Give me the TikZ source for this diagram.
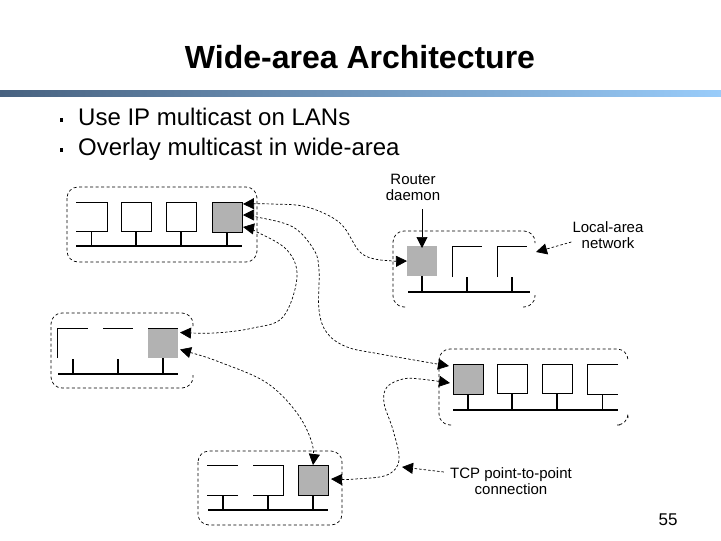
\documentclass[tikz,border=0pt]{standalone}
\usepackage{fontspec}
\setmainfont{Liberation Sans}
\usetikzlibrary{arrows.meta,calc}
\definecolor{routergray}{HTML}{B2B2B2}
\tikzset{
  x=1pt,y=-1pt,
  host/.style={draw=black,line width=0.8pt,fill=white,minimum width=30pt,minimum height=29.5pt,inner sep=0pt,outer sep=0pt,anchor=north west},
  router/.style={fill=routergray,minimum width=30pt,minimum height=30pt,inner sep=0pt,outer sep=0pt,anchor=north west},
  open/.style={draw=black,line width=0.8pt},
  bus/.style={draw=black,line width=1.5pt},
  stub/.style={draw=black,line width=1.5pt},
  thinstub/.style={draw=black,line width=0.8pt},
  lan/.style={draw=black,line width=0.7pt,dash pattern=on 3pt off 2.5pt,rounded corners=11pt},
  conn/.style={draw=black,line width=0.7pt,dash pattern=on 2.5pt off 2pt},
  tip/.style={-{Triangle[length=11pt,width=11pt]}},
  tips/.style={{Triangle[length=11pt,width=11pt]}-{Triangle[length=11pt,width=11pt]}},
  label/.style={font=\fontsize{15}{16.5}\selectfont,align=center,text=black,inner sep=0pt},
}
\begin{document}
\begin{tikzpicture}
\useasboundingbox (0,0) rectangle (721,541);
\fill[white] (0,0) rectangle (721,541);
% header
\node (title) at (360,57) {\fontsize{32}{36}\selectfont\bfseries Wide-area Architecture};
\shade[left color={rgb,255:red,72;green,98;blue,128},middle color={rgb,255:red,112;green,152;blue,194},right color={rgb,255:red,153;green,204;blue,250}] (0,90) rectangle (721,96);
\node[fill=black,minimum width=3pt,minimum height=4pt,inner sep=0pt] (b1) at (61,120) {};
\node[fill=black,minimum width=3pt,minimum height=4pt,inner sep=0pt] (b2) at (61,150) {};
\node[anchor=west,inner sep=0pt] (t1) at (78,117) {\fontsize{24}{28}\selectfont Use IP multicast on LANs};
\node[anchor=west,inner sep=0pt] (t2) at (78,149) {\fontsize{24}{28}\selectfont Overlay multicast in wide-area};
\node (page) at (668,520) {\fontsize{17}{20}\selectfont 55};

% LAN outlines
\draw[lan] (67,187) rectangle (257,262);
\draw[lan] (193,326) -- (193,313) -- (51,313) -- (51,388) -- (193,388) -- (193,375);
\draw[lan] (405,307) -- (393,307) -- (393,231) -- (535,231) -- (535,243);
\draw[lan] (523,307) -- (535,307) -- (535,295);
\draw[lan] (451,425) -- (439,425) -- (439,349) -- (628,349) -- (628,361);
\draw[lan] (620,425) -- (628,425) -- (628,418);
\draw[lan] (198,451) rectangle (342,525);

% LAN 1
\node[host] (h11) at (121,202) {};
\node[host] (h12) at (166,202) {};
\node[router] (r1) at (212,202) {};
\draw[open] (76,202) -- (107,202) -- (107,231) -- (76,231);
\coordinate (s11) at (91,231);
\coordinate (bus1w) at (76,246);
\coordinate (bus1e) at (242,246);
\draw[bus] (bus1w) -- (bus1e);
\draw[thinstub] (s11) -- (s11 |- bus1w);
\draw[stub] (h11.south) -- (h11.south |- bus1w);
\draw[stub] (h12.south) -- (h12.south |- bus1w);
\draw[stub] (r1.south) -- (r1.south |- bus1w);
\draw[open] (r1.north west) rectangle (r1.south east);

% LAN 2
\node[router] (r2) at (148,328) {};
\draw[open] (57,358) -- (57,328) -- (88,328);
\draw[open] (103,328) -- (133,328);
\draw[open] (148,328) -- (178,328);
\coordinate (bus2w) at (58,374);
\coordinate (bus2e) at (178,374);
\draw[bus] (bus2w) -- (bus2e);
\coordinate (s21) at (73,359);
\coordinate (s22) at (118,359);
\draw[stub] (s21) -- (s21 |- bus2w);
\draw[stub] (s22) -- (s22 |- bus2w);
\draw[stub] (r2.south) -- (r2.south |- bus2w);

% LAN 3
\node[router] (r3) at (407,246) {};
\draw[open] (452,277) -- (452,246) -- (482,246);
\draw[open] (497,277) -- (497,246) -- (527,246);
\coordinate (bus3w) at (408,292);
\coordinate (bus3e) at (530,292);
\draw[bus] (bus3w) -- (bus3e);
\coordinate (s32) at (467,277);
\coordinate (s33) at (512,277);
\draw[stub] (r3.south) -- (r3.south |- bus3w);
\draw[stub] (s32) -- (s32 |- bus3w);
\draw[stub] (s33) -- (s33 |- bus3w);

% LAN 4
\node[router] (r4) at (453,364) {};
\node[host] (h41) at (497,364) {};
\node[host] (h42) at (542,364) {};
\draw[open] (618,364) -- (587,364) -- (587,394) -- (618,394);
\coordinate (bus4w) at (453,410);
\coordinate (bus4e) at (618,410);
\draw[bus] (bus4w) -- (bus4e);
\coordinate (s44) at (602,394);
\draw[stub] (r4.south) -- (r4.south |- bus4w);
\draw[stub] (h41.south) -- (h41.south |- bus4w);
\draw[stub] (h42.south) -- (h42.south |- bus4w);
\draw[thinstub] (s44) -- (s44 |- bus4w);
\draw[open] (r4.north west) rectangle (r4.south east);

% LAN 5
\node[router] (r5) at (298,465) {};
\draw[open] (207,465) -- (238,465) (238,495) -- (207,495);
\draw[open] (253,465) -- (283,465) -- (283,495) -- (253,495);
\coordinate (bus5w) at (208,510);
\coordinate (bus5e) at (328,510);
\draw[bus] (bus5w) -- (bus5e);
\coordinate (s51) at (223,495);
\coordinate (s52) at (268,495);
\draw[stub] (s51) -- (s51 |- bus5w);
\draw[stub] (s52) -- (s52 |- bus5w);
\draw[stub] (r5.south) -- (r5.south |- bus5w);
\draw[open] (r5.north west) rectangle (r5.south east);

% labels
\node[label] (rd) at (413,187.5) {Router\\daemon};
\node[label] (la) at (608,235) {Local-area\\network};
\node[label] (tcp) at (511,481) {TCP point-to-point\\connection};

% annotation arrows
\coordinate (rdtop) at (r3.north |- rd.south);
\draw[draw=black,line width=0.7pt,tip] ([yshift=-8pt]rdtop) -- ([yshift=-2pt]r3.north);
\draw[conn,tip] ($(la.west)+(-1,7)$) -- (536,252);
\draw[conn,tip] ($(tcp.west)+(-6,-9)$) -- (402,467);

% connectors
\coordinate (r1a) at ($(r1.east)+(1,-13)$);
\coordinate (r1b) at ($(r1.east)+(1,-2)$);
\coordinate (r1c) at ($(r1.east)+(1,10)$);
\coordinate (r2a) at ($(r2.east)+(2,-10.5)$);
\coordinate (r2b) at ($(r2.east)+(2,6.5)$);
\coordinate (r4a) at ($(r4.west)+(-4,-13)$);
\coordinate (r4b) at ($(r4.west)+(-3,4)$);
\coordinate (r5a) at ($(r5.east)+(3,-1)$);
\draw[conn,tips] plot[smooth,tension=0.6] coordinates {(r3.west) (380,260) (360,252) (340,223) (307,207) (272,204) (r1a)};
\draw[conn,tips] plot[smooth,tension=0.6] coordinates {(r1c) (257,232) (287,250) (297,277) (283,317) (253,328) (215,333) (r2a)};
\draw[conn,tips] plot[smooth,tension=0.6] coordinates {(r1b) (257,217) (293,227) (314,250) (319,270) (319,310) (327,333) (347,347) (380,354) (r4a)};
\draw[conn,tips] plot[smooth,tension=0.6] coordinates {(r2b) (222,363) (267,383) (297,413) (312,443) (r5.north)};
\draw[conn,tips] plot[smooth,tension=0.6] coordinates {(r5a) (355,479) (387,475) (399,460) (393,430) (384,403) (387,387) (403,379) (420,379) (r4b)};
\end{tikzpicture}
\end{document}
